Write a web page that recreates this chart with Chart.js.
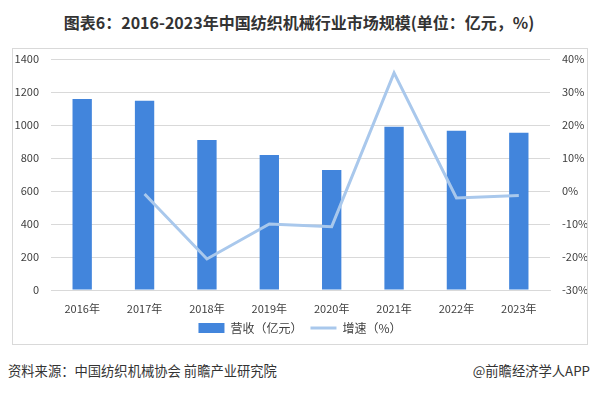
<!DOCTYPE html>
<html>
<head>
<meta charset="utf-8">
<script src="https://cdn.jsdelivr.net/npm/chart.js@4"></script>
<style>
  body { margin: 0; width: 598px; height: 395px; background: #fff; position: relative; font-family: "Noto Sans CJK SC", sans-serif; }
  .title { position: absolute; top: 10px; left: 0; width: 598px; text-align: center; font-size: 16px; font-weight: bold; color: #333; }
  .box { position: absolute; left: 12px; top: 48px; width: 576px; height: 297px; border: 1px solid #d9d9d9; box-sizing: border-box; }
  .source { position: absolute; left: 8px; top: 361px; font-size: 13.3px; color: #333; }
  .app { position: absolute; right: 8px; top: 361px; font-size: 13.3px; color: #333; }
</style>
</head>
<body>
<div class="title">图表6：2016-2023年中国纺织机械行业市场规模(单位：亿元，%)</div>
<div class="box"><canvas id="myChart" width="574" height="295"></canvas></div>
<div class="source">资料来源：中国纺织机械协会 前瞻产业研究院</div>
<div class="app">@前瞻经济学人APP</div>
<script>
const years = ["2016年", "2017年", "2018年", "2019年", "2020年", "2021年", "2022年", "2023年"];
const revenue = [1158, 1147, 909, 818, 727, 990, 965, 953];
const growth = [null, -0.9, -20.6, -10.0, -10.8, 35.8, -2.1, -1.4];
const leftTicks = { min: 0, max: 1400, step: 200 };
const rightTicks = { min: -30, max: 40, step: 10 };

const tickFont = { family: "Noto Sans CJK SC", size: 11 };

// keep the plot area where the reference has it
const fixVertical = (w) => (scale) => {
  scale.width = w;
  scale.paddingTop = 0;
  scale.paddingBottom = 0;
};

const ctx = document.getElementById('myChart');
new Chart(ctx, {
  type: 'bar',
  data: {
    labels: years,
    datasets: [{
      label: "营收（亿元）",
      data: revenue,
      backgroundColor: "#4285dc",
      barPercentage: 0.31,
      categoryPercentage: 1,
      yAxisID: 'y',
      pointStyle: 'rect',
      order: 2
    }, {
      type: 'line',
      label: "增速（%）",
      data: growth,
      borderColor: "#a9c8ec",
      backgroundColor: "#a9c8ec",
      borderWidth: 3,
      pointRadius: 0,
      pointStyle: 'line',
      tension: 0,
      yAxisID: 'y1',
      order: 1
    }]
  },
  options: {
    responsive: false,
    animation: false,
    layout: { padding: { top: 10, bottom: 0, left: 0, right: 0 } },
    plugins: {
      tooltip: { enabled: false },
      legend: {
        position: 'bottom',
        labels: {
          usePointStyle: true,
          pointStyleWidth: 26,
          boxHeight: 10,
          padding: 8,
          color: "#404040",
          font: { family: "Noto Sans CJK SC", size: 12 },
          sort: (a, b) => a.datasetIndex - b.datasetIndex
        }
      }
    },
    scales: {
      x: {
        grid: { display: false },
        border: { color: "#d9d9d9" },
        ticks: { color: "#404040", font: tickFont, maxRotation: 0, padding: 4 },
        afterFit: (scale) => { scale.height = 24; }
      },
      y: {
        position: 'left',
        min: leftTicks.min,
        max: leftTicks.max,
        ticks: { stepSize: leftTicks.step, color: "#404040", font: tickFont, padding: 12, callback: (v) => String(v) },
        grid: { color: "#d9d9d9", drawTicks: false },
        border: { display: false },
        afterFit: fixVertical(38)
      },
      y1: {
        position: 'right',
        min: rightTicks.min,
        max: rightTicks.max,
        ticks: { stepSize: rightTicks.step, color: "#404040", font: tickFont, padding: 12, callback: (v) => v + "%" },
        grid: { display: false, drawTicks: false },
        border: { display: false },
        afterFit: fixVertical(37)
      }
    }
  }
});
</script>
</body>
</html>
